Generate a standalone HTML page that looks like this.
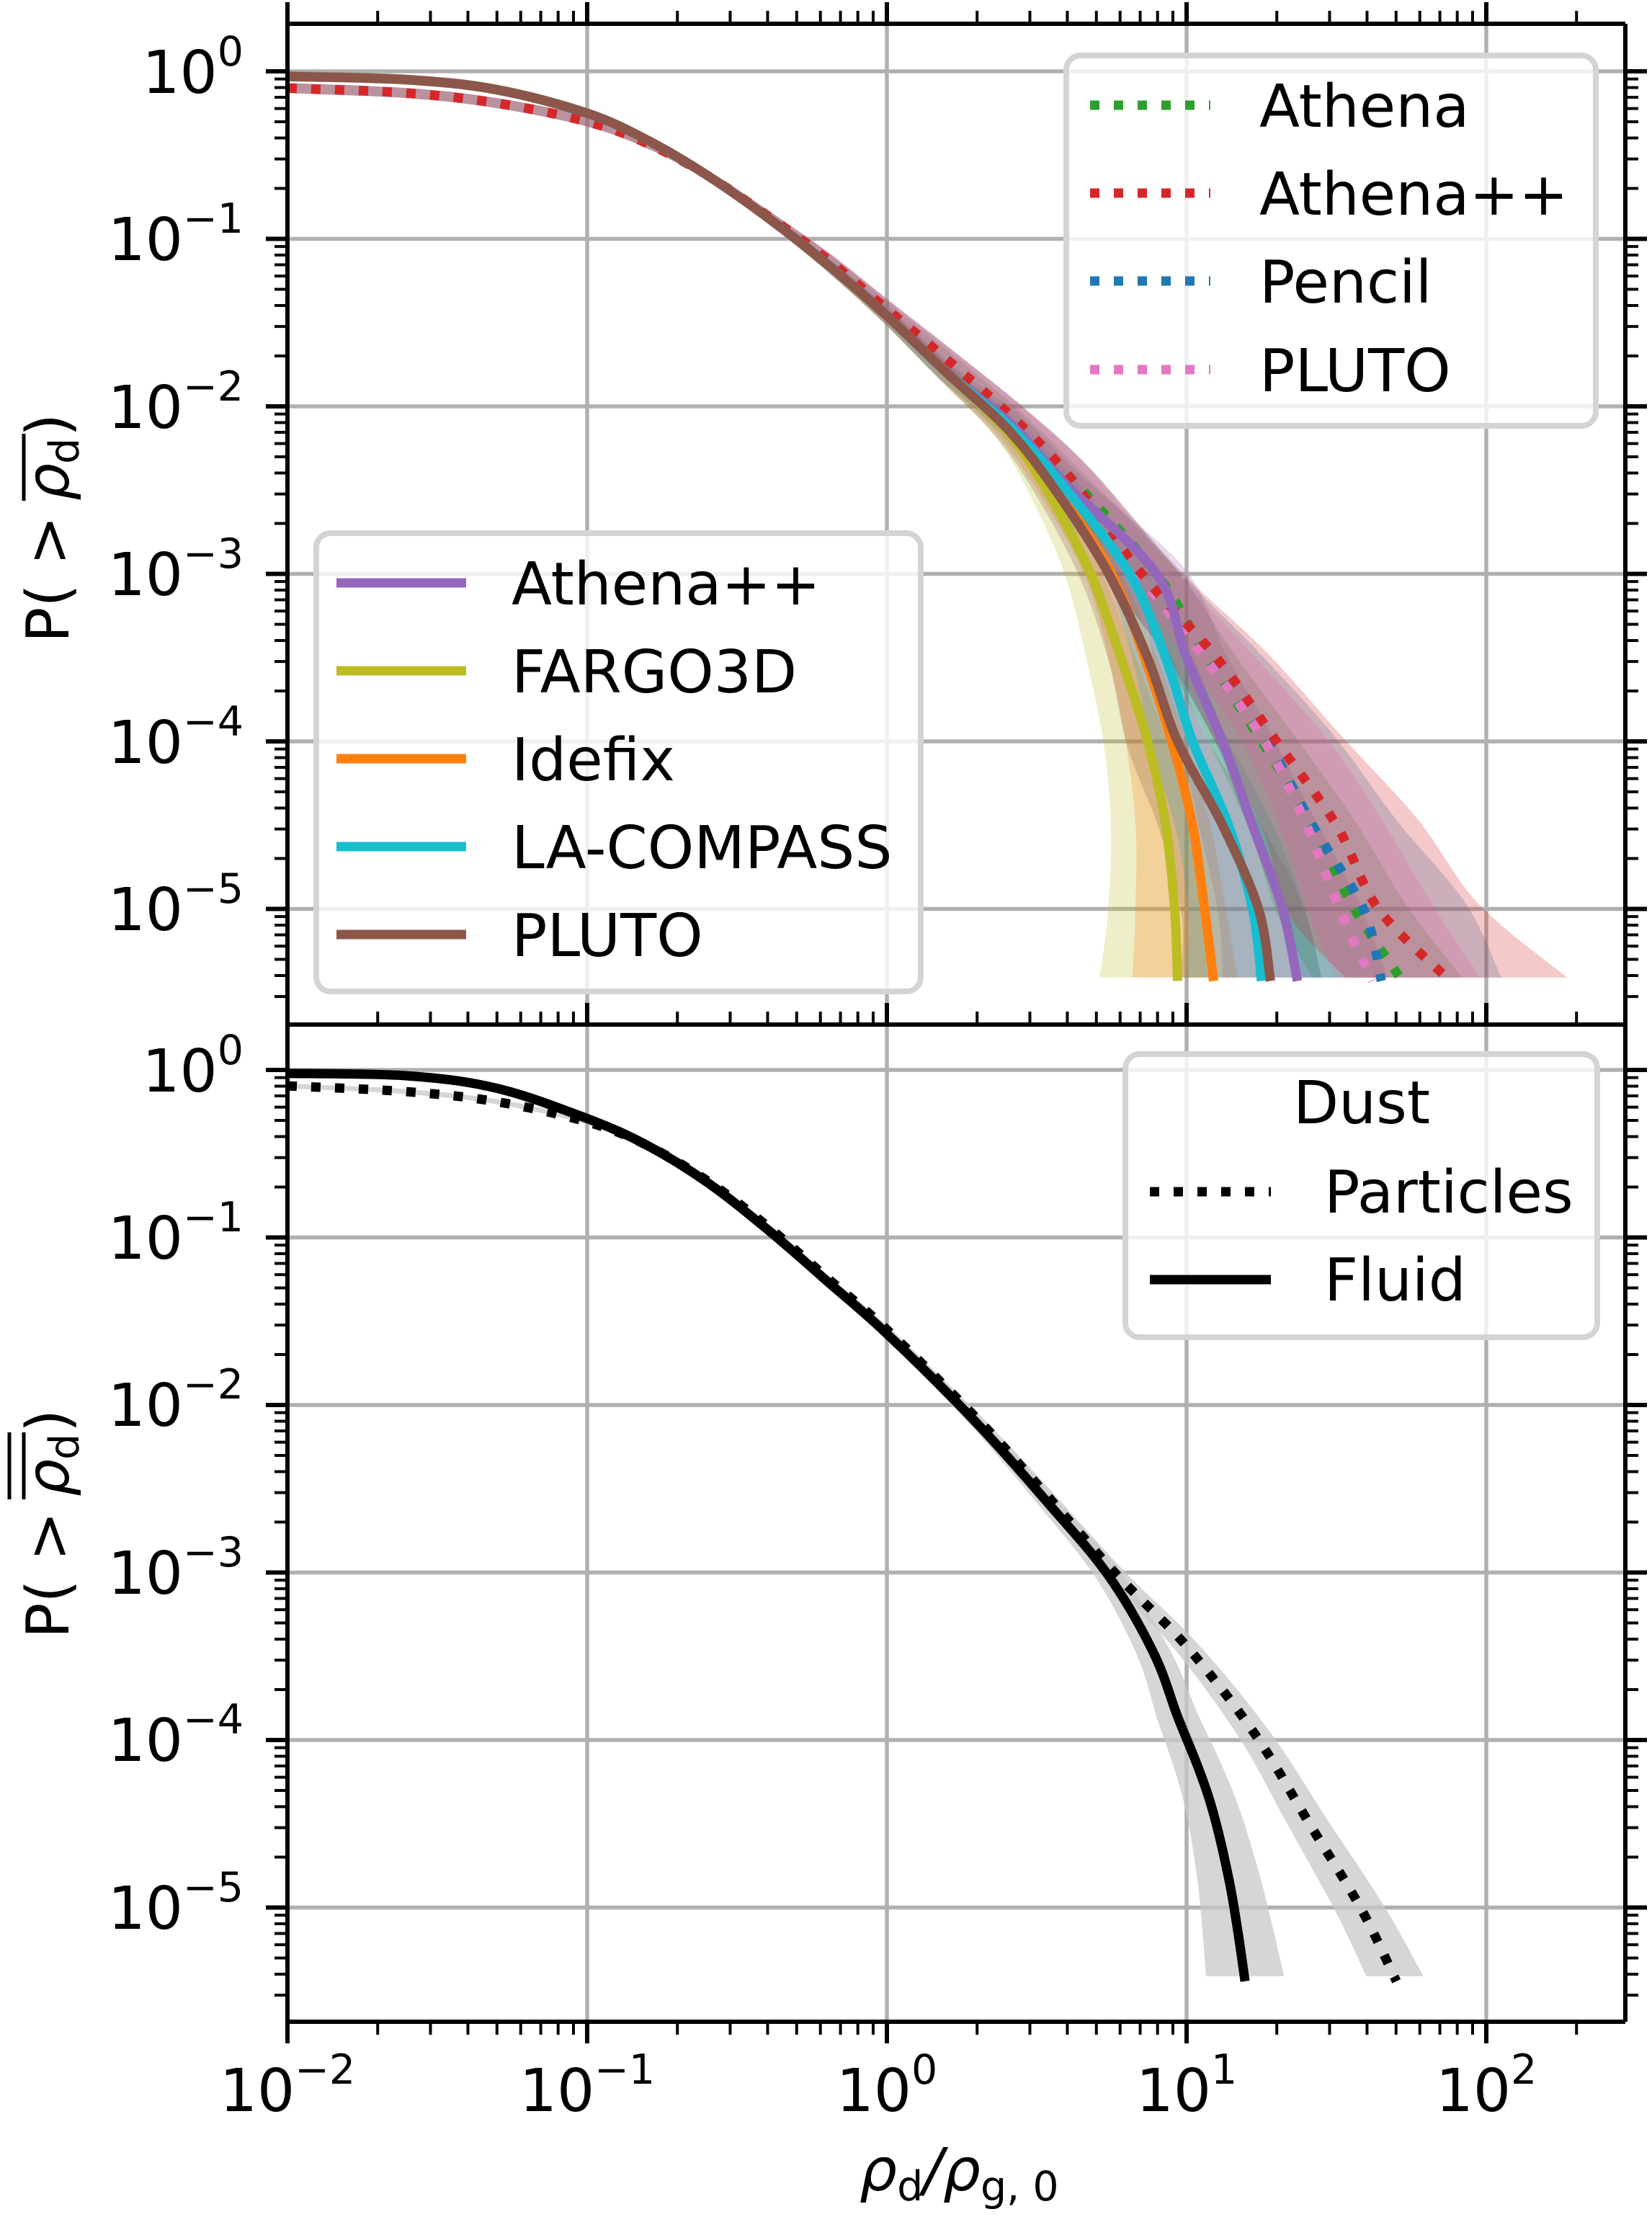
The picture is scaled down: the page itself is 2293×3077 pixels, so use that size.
<!DOCTYPE html>
<html><head><meta charset="utf-8">
<style>
html,body{margin:0;padding:0;background:#fff;}
svg{display:block;}
text{font-family:"DejaVu Sans","Liberation Sans",sans-serif;fill:#000;}
</style></head>
<body>
<svg id="s" xmlns="http://www.w3.org/2000/svg" width="2293" height="3077" viewBox="0 0 2293 3077">
<rect width="2293" height="3077" fill="#fff"/>
<g id="grid"></g>
<g id="bands"></g>
<g id="lines"></g>
<g id="axes"></g>

<g font-size="82" text-anchor="end">
<text x="338" y="129">10<tspan font-size="57" dy="-38">0</tspan></text>
<text x="338" y="361">10<tspan font-size="57" dy="-38">−1</tspan></text>
<text x="338" y="594">10<tspan font-size="57" dy="-38">−2</tspan></text>
<text x="338" y="826">10<tspan font-size="57" dy="-38">−3</tspan></text>
<text x="338" y="1059">10<tspan font-size="57" dy="-38">−4</tspan></text>
<text x="338" y="1291">10<tspan font-size="57" dy="-38">−5</tspan></text>
<text x="338" y="1515">10<tspan font-size="57" dy="-38">0</tspan></text>
<text x="338" y="1747">10<tspan font-size="57" dy="-38">−1</tspan></text>
<text x="338" y="1979">10<tspan font-size="57" dy="-38">−2</tspan></text>
<text x="338" y="2212">10<tspan font-size="57" dy="-38">−3</tspan></text>
<text x="338" y="2444">10<tspan font-size="57" dy="-38">−4</tspan></text>
<text x="338" y="2677">10<tspan font-size="57" dy="-38">−5</tspan></text>
</g>
<g font-size="82" text-anchor="middle">
<text x="399" y="2930">10<tspan font-size="57" dy="-38">−2</tspan></text>
<text x="815" y="2930">10<tspan font-size="57" dy="-38">−1</tspan></text>
<text x="1231" y="2930">10<tspan font-size="57" dy="-38">0</tspan></text>
<text x="1647" y="2930">10<tspan font-size="57" dy="-38">1</tspan></text>
<text x="2063" y="2930">10<tspan font-size="57" dy="-38">2</tspan></text>
</g>
<text x="1193" y="3040" font-size="82"><tspan font-style="italic">ρ</tspan><tspan font-size="57" dy="14">d</tspan><tspan dy="-14" font-style="italic">/ρ</tspan><tspan font-size="57" dy="14">g, 0</tspan></text>

<g transform="translate(95,726) rotate(-90)">
<text x="-166" y="0" font-size="82">P( &gt;</text>
<text x="31" y="0" font-size="82" font-style="italic">ρ</text>
<text x="82" y="14" font-size="57">d</text>
<text x="120" y="0" font-size="82">)</text>
<line x1="31" x2="124" y1="-62" y2="-62" stroke="#000" stroke-width="5"/>
</g>
<g transform="translate(95,2108) rotate(-90)">
<text x="-166" y="0" font-size="82">P( &gt;</text>
<text x="31" y="0" font-size="82" font-style="italic">ρ</text>
<text x="82" y="14" font-size="57">d</text>
<text x="120" y="0" font-size="82">)</text>
<line x1="27" x2="120" y1="-62" y2="-62" stroke="#000" stroke-width="5"/>
<line x1="27" x2="120" y1="-82" y2="-82" stroke="#000" stroke-width="5"/>
</g>

<g id="leg">
<rect x="1480" y="77" width="735" height="514" rx="20" fill="#fff" fill-opacity="0.8" stroke="#d4d4d4" stroke-width="8"/>
<g stroke-width="13" stroke-dasharray="13 20">
<line x1="1513" x2="1680" y1="146" y2="146" stroke="#2ca02c"/>
<line x1="1513" x2="1680" y1="268" y2="268" stroke="#d62728"/>
<line x1="1513" x2="1680" y1="390" y2="390" stroke="#1f77b4"/>
<line x1="1513" x2="1680" y1="513" y2="513" stroke="#e377c2"/>
</g>
<g font-size="82">
<text x="1748" y="176">Athena</text>
<text x="1748" y="298">Athena++</text>
<text x="1748" y="420">Pencil</text>
<text x="1748" y="543">PLUTO</text>
</g>

<rect x="439" y="740" width="839" height="636" rx="20" fill="#fff" fill-opacity="0.8" stroke="#d4d4d4" stroke-width="8"/>
<g stroke-width="13">
<line x1="467" x2="647" y1="809" y2="809" stroke="#9467bd"/>
<line x1="467" x2="647" y1="931" y2="931" stroke="#bcbd22"/>
<line x1="467" x2="647" y1="1053" y2="1053" stroke="#ff7f0e"/>
<line x1="467" x2="647" y1="1175" y2="1175" stroke="#17becf"/>
<line x1="467" x2="647" y1="1297" y2="1297" stroke="#8c564b"/>
</g>
<g font-size="82">
<text x="710" y="839">Athena++</text>
<text x="710" y="961">FARGO3D</text>
<text x="710" y="1083">Idefix</text>
<text x="710" y="1205">LA-COMPASS</text>
<text x="710" y="1327">PLUTO</text>
</g>

<rect x="1562" y="1463" width="655" height="393" rx="20" fill="#fff" fill-opacity="0.8" stroke="#d4d4d4" stroke-width="8"/>
<text x="1890" y="1559" font-size="82" text-anchor="middle">Dust</text>
<line x1="1596" x2="1764" y1="1654" y2="1654" stroke="#000" stroke-width="13" stroke-dasharray="13 20"/>
<line x1="1596" x2="1764" y1="1776" y2="1776" stroke="#000" stroke-width="13"/>
<text x="1838" y="1683" font-size="82">Particles</text>
<text x="1838" y="1805" font-size="82">Fluid</text>
</g>
</svg>
<script>
(function(){
var NS="http://www.w3.org/2000/svg";
var X0=1231,DX=416,L=399,R=2256;
var P=[{top:33,bot:1422,y0:99},{top:1422,bot:2806,y0:1485}];
var DY=232.5;
function el(p,tag,a){var e=document.createElementNS(NS,tag);for(var k in a)e.setAttribute(k,a[k]);document.getElementById(p).appendChild(e);return e;}
function px(lx){return X0+DX*lx;}
function py(ly,i){return P[i].y0-DY*ly;}
function cr(pts,move){
  var s=(move?"M":"L")+pts[0][0].toFixed(1)+","+pts[0][1].toFixed(1);
  for(var k=0;k<pts.length-1;k++){
    var p0=pts[k-1]||pts[k],p1=pts[k],p2=pts[k+1],p3=pts[k+2]||p2;
    var c1=[p1[0]+(p2[0]-p0[0])/6,p1[1]+(p2[1]-p0[1])/6];
    var c2=[p2[0]-(p3[0]-p1[0])/6,p2[1]-(p3[1]-p1[1])/6];
    s+=" C"+c1[0].toFixed(1)+","+c1[1].toFixed(1)+" "+c2[0].toFixed(1)+","+c2[1].toFixed(1)+" "+p2[0].toFixed(1)+","+p2[1].toFixed(1);
  }
  return s;
}
P.forEach(function(p,i){
  for(var k=-2;k<=2;k++){var x=px(k);el("grid","line",{x1:x,x2:x,y1:p.top,y2:p.bot,stroke:"#b0b0b0","stroke-width":5.5});}
  for(var k=0;k>=-5;k--){var y=py(k,i);el("grid","line",{x1:L,x2:R,y1:y,y2:y,stroke:"#b0b0b0","stroke-width":5.5});}
});
var sol=[[-2,-0.03],[-1.6,-0.05],[-1.3,-0.11],[-1,-0.25],[-0.8,-0.41],[-0.6,-0.62],[-0.4,-0.87],[-0.2,-1.15],[0,-1.46],[0.2,-1.8]];
var dot=[[-2,-0.1],[-1.6,-0.13],[-1.3,-0.19],[-1,-0.3],[-0.8,-0.43],[-0.6,-0.62],[-0.4,-0.86],[-0.2,-1.12],[0,-1.42],[0.2,-1.72]];
var C=[
 {c:"#9467bd",d:0,t:[[0.41,-2.1],[0.6,-2.47],[0.9,-3],[1.0,-3.5],[1.12,-4],[1.22,-4.5],[1.32,-5],[1.37,-5.43]],bl:0.25,br:0.3},
 {c:"#bcbd22",d:0,t:[[0.41,-2.17],[0.55,-2.55],[0.68,-3],[0.78,-3.5],[0.87,-4],[0.93,-4.5],[0.96,-5],[0.97,-5.43]],bl:0.26,br:0.1},
 {c:"#ff7f0e",d:0,t:[[0.41,-2.14],[0.57,-2.5],[0.75,-3],[0.86,-3.5],[0.95,-4],[1.02,-4.5],[1.06,-5],[1.09,-5.43]],bl:0.27,br:0.08},
 {c:"#17becf",d:0,t:[[0.41,-2.12],[0.6,-2.5],[0.81,-3],[0.93,-3.5],[1.02,-4],[1.14,-4.5],[1.22,-5],[1.25,-5.43]],bl:0.25,br:0.2},
 {c:"#8c564b",d:0,t:[[0.41,-2.15],[0.57,-2.52],[0.74,-3],[0.87,-3.5],[0.97,-4],[1.12,-4.5],[1.24,-5],[1.28,-5.43]],bl:0.3,br:0.17},
 {c:"#2ca02c",d:1,t:[[0.41,-2.05],[0.6,-2.4],[0.9,-3],[1.07,-3.5],[1.25,-4],[1.42,-4.5],[1.56,-5],[1.72,-5.43]],bl:0.3,br:0.2},
 {c:"#1f77b4",d:1,t:[[0.41,-2.05],[0.6,-2.4],[0.84,-3],[1.07,-3.5],[1.27,-4],[1.42,-4.5],[1.59,-5],[1.65,-5.43]],bl:0.3,br:0.4},
 {c:"#e377c2",d:1,t:[[0.41,-2.05],[0.6,-2.4],[0.84,-3],[1.06,-3.5],[1.26,-4],[1.4,-4.5],[1.51,-5],[1.62,-5.43]],bl:0.12,br:0.36},
 {c:"#d62728",d:1,t:[[0.41,-2.05],[0.6,-2.4],[0.85,-3],[1.1,-3.5],[1.3,-4],[1.5,-4.5],[1.64,-5],[1.88,-5.43]],bl:0.35,br:0.39}
];
function band(pts,bl,br,i,fill,op,yo){
  var l=[],r=[];
  pts.forEach(function(q){var t=Math.max(0,-q[1]-0.5)/4.93;var f=Math.pow(t,1.7);
    l.push([px(q[0]-bl*f),py(q[1]-yo,i)]);r.push([px(q[0]+br*f),py(q[1]+yo,i)]);});
  l[l.length-1][1]=py(-5.41,i);r[r.length-1][1]=py(-5.41,i);
  var s=cr(l,true);
  s+=" "+cr(r.slice().reverse(),false)+" Z";
  el("bands","path",{d:s,fill:fill,"fill-opacity":op});
}
function line(pts,i,c,dash){
  var pp=pts.map(function(q){return [px(q[0]),py(q[1],i)];});
  var a={d:cr(pp,true),fill:"none",stroke:c,"stroke-width":13,"stroke-linejoin":"round"};
  if(dash)a["stroke-dasharray"]="13 20";
  el("lines","path",a);
}
C.forEach(function(o){var pts=(o.d?dot:sol).concat(o.t);band(pts,o.bl,o.br,0,o.c,0.25,0.03);});
C.slice(5).forEach(function(o){line(dot.concat(o.t),0,o.c,true);});
C.slice(0,5).forEach(function(o){line(sol.concat(o.t),0,o.c,false);});
var fl=[[-2,-0.02],[-1.6,-0.035],[-1.3,-0.11],[-1,-0.29],[-0.8,-0.45],[-0.6,-0.67],[-0.4,-0.95],[-0.2,-1.26],[0,-1.575],[0.29,-2.09],[0.54,-2.59],[0.74,-3.02],[0.89,-3.48],[0.97,-3.86],[1.04,-4.17],[1.09,-4.44],[1.14,-4.82],[1.17,-5.13],[1.195,-5.44]];
var pa=[[-2,-0.095],[-1.6,-0.13],[-1.3,-0.19],[-1,-0.31],[-0.8,-0.45],[-0.6,-0.66],[-0.4,-0.93],[-0.2,-1.24],[0,-1.55],[0.3,-2.08],[0.5,-2.47],[0.76,-3.0],[1.0,-3.44],[1.23,-3.97],[1.41,-4.5],[1.58,-5],[1.70,-5.44]];
band(fl,0.13,0.13,1,"#c8c8c8",0.75,0.015);
band(pa,0.1,0.09,1,"#c8c8c8",0.75,0.015);
line(fl,1,"#000",false);line(pa,1,"#000",true);
function ln(x1,y1,x2,y2,w){el("axes","line",{x1:x1,y1:y1,x2:x2,y2:y2,stroke:"#000","stroke-width":w});}
P.forEach(function(p,i){
  ln(L,p.top,L,p.bot,6);ln(R,p.top,R,p.bot,6);
  for(var k=1;k>=-6;k--){for(var m=1;m<10;m++){
      var y=(m==1)?py(k,i):py(k-1+Math.log10(m),i);
      if(y<p.top+1||y>p.bot-1)continue;var len=(m==1)?30:18,w=(m==1)?6:4;
      ln(L-len,y,L,y,w);ln(R,y,R+len,y,w);}}
});
ln(L,33,R,33,6);ln(L,1422,R,1422,6);ln(L,2806,R,2806,6);
for(var k=-2;k<=2;k++){for(var m=1;m<10;m++){var x=px(k+Math.log10(m));if(x>R+1)continue;
  var len=(m==1)?30:18,w=(m==1)?6:4;
  ln(x,33-len,x,33,w);ln(x,1422-len,x,1422,w);ln(x,2806,x,2806+len,w);}}
})();
</script>
</body></html>
